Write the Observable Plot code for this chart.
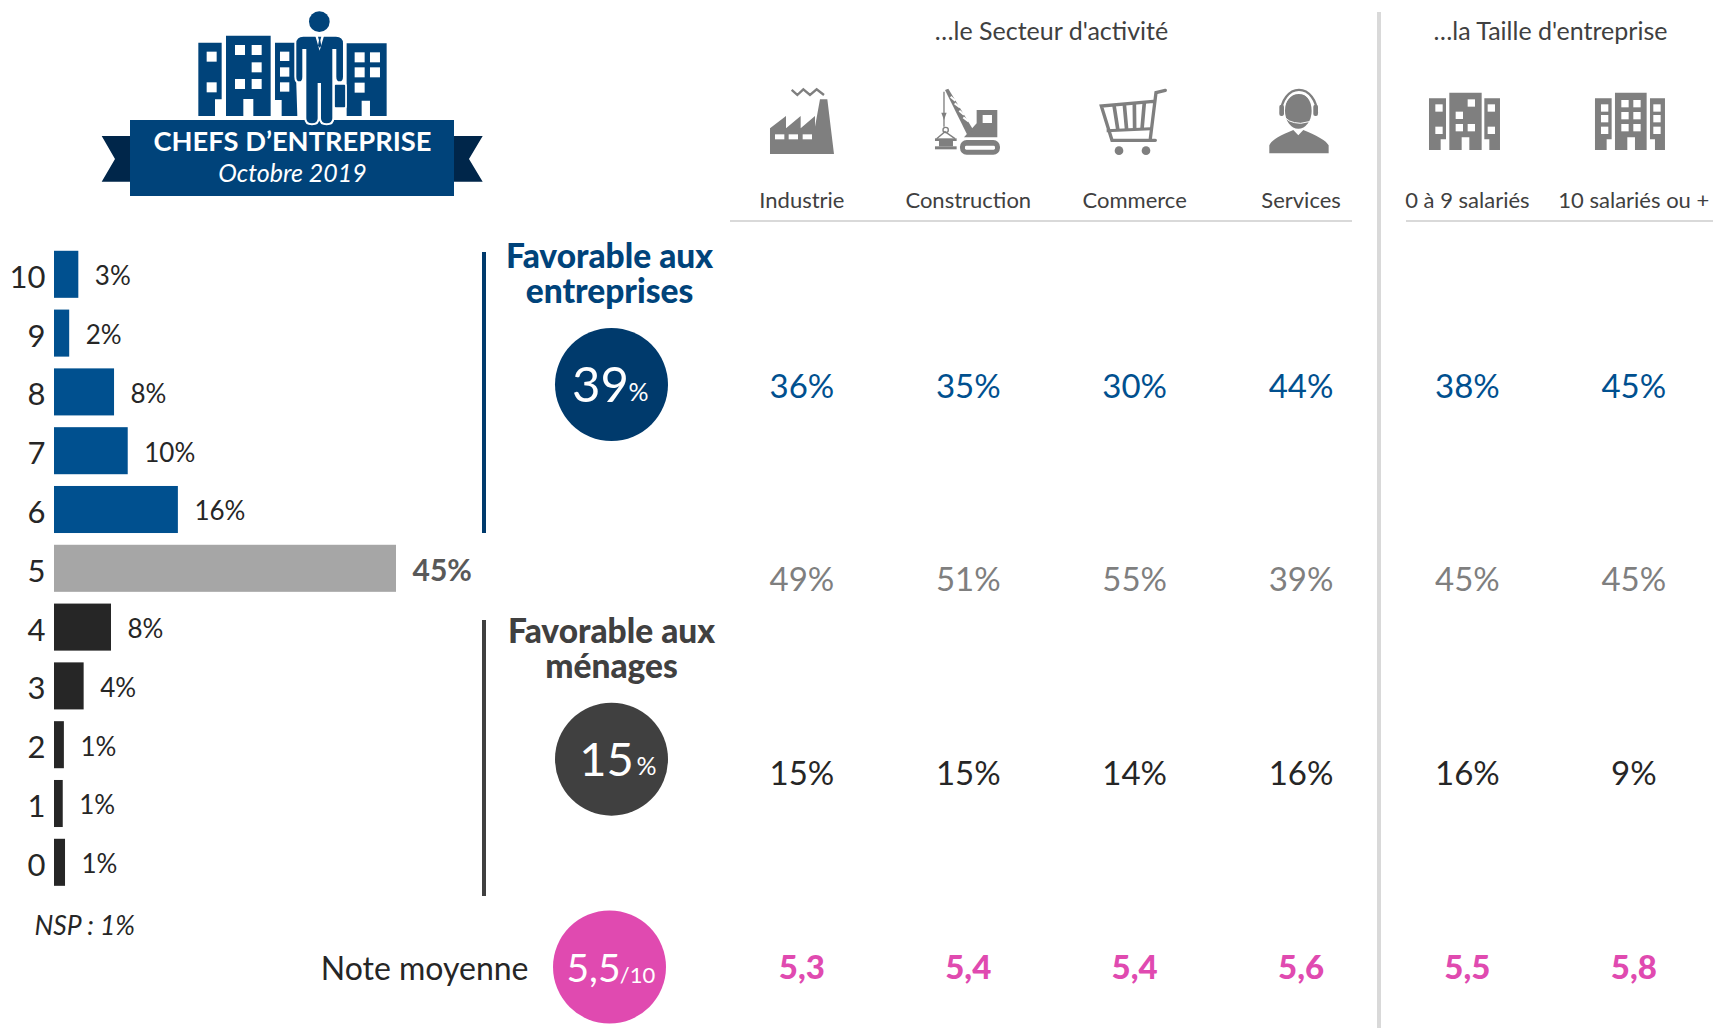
<!DOCTYPE html>
<html lang="fr">
<head>
<meta charset="utf-8">
<script src="https://cdn.jsdelivr.net/npm/d3@7"></script>
<script src="https://cdn.jsdelivr.net/npm/@observablehq/plot@0.6"></script>
<style>
html,body{margin:0;padding:0;background:#fff}
#page{position:relative;width:1713px;height:1028px;overflow:hidden}
#page svg{position:absolute;left:0;top:0}
</style>
</head>
<body>
<div id="page"></div>
<script>
// ---- Data ----
const scores = [10, 9, 8, 7, 6, 5, 4, 3, 2, 1, 0];
const shares = [3.2, 2.0, 7.9, 9.7, 16.3, 45, 7.5, 3.9, 1.3, 1.15, 1.45];
const shareLabels = ["3%", "2%", "8%", "10%", "16%", "45%", "8%", "4%", "1%", "1%", "1%"];
const groups = ["ent", "ent", "ent", "ent", "ent", "neu", "men", "men", "men", "men", "men"];

const columns = ["Industrie", "Construction", "Commerce", "Services", "0 à 9 salariés", "10 salariés ou +"];
const rowNames = ["entreprises", "neutre", "menages", "note"];
const favEntreprises = ["36%", "35%", "30%", "44%", "38%", "45%"];
const neutres = ["49%", "51%", "55%", "39%", "45%", "45%"];
const favMenages = ["15%", "15%", "14%", "16%", "16%", "9%"];
const notes = ["5,3", "5,4", "5,4", "5,6", "5,5", "5,8"];

const FONT = "Lato, Carlito, sans-serif";
const BLUE = "#00508f", NAVY = "#00437a", DEEP = "#003a6c", TAIL = "#00264a";
const GREY = "#a6a6a6", DARK = "#262626", CHAR = "#404040", PINK = "#e04ab0", ICON = "#7f7f7f", RULE = "#d9d9d9";

// Text at a fixed place on the page (headings and annotations, not data)
const note = (text, x, y, o = {}) => Plot.text([text], {
  text: d => d, frameAnchor: "top-left", dx: x, dy: y,
  lineAnchor: "middle", textAnchor: "middle", fill: "#404040", fontSize: 22, ...o
});

const decor = html => () => {
  const g = d3.create("svg:g");
  g.html(html);
  return g.node();
};

// ---- Pictograms (decorative) ----
const sq = (list, s, h = s) => list.map(([x, y]) => `<rect x="${x}" y="${y}" width="${s}" height="${h}" fill="#fff"/>`).join("");

const logo = `
<g>
  <path d="M130,136 H101.7 L115,159 L101.7,181.7 H130Z M454,136 H482.7 L469,159 L482.7,181.7 H454Z" fill="${TAIL}"/>
  <rect x="130" y="120" width="324" height="76" fill="${NAVY}"/>
  <g transform="translate(190,5) scale(.3333)" fill="${NAVY}">
    <path d="M25,113H95V283H75V333H25Z"/>
    <path d="M108,92H242V333H190V282H160V333H108Z"/>
    <path d="M255,113H315L322,333H275V285H255Z"/>
    <path d="M470,115H590V333H540V287H515V333H470Z"/>
    ${sq([[50,140],[50,232],[135,120],[185,120],[185,172],[135,222],[185,222],[494,142],[540,142],[494,187],[540,187],[494,233]], 30)}
    ${sq([[270,140],[270,187],[270,232]], 28)}
    <rect x="432" y="237" width="36" height="72" rx="5" stroke="#fff" stroke-width="5"/>
    <path d="M340,92H438Q462,92 462,115V215Q462,232 449,232Q436,232 436,215V135H430V340Q430,358 410,358Q390,358 390,340V237H386V340Q386,358 366,358Q346,358 346,340V135H340V215Q340,232 328,232Q316,232 316,215V115Q316,92 340,92Z" stroke="#fff" stroke-width="6"/>
    <circle cx="388" cy="50" r="31"/>
    <path d="M376,93H402L389,137Z" fill="#fff"/>
    <path d="M384,95H394L391,106L394,122L389,128L384,122L387,106Z"/>
  </g>
</g>`;

const buildingsA = `
<g transform="translate(1420,80) scale(.3333)" fill="${ICON}">
  <path d="M27,55H78V178H62V210H27Z"/>
  <path d="M88,38H185V210H148V172H125V210H88Z"/>
  <path d="M193,55H240V210H208V178H193Z"/>
  ${sq([[46,73],[46,140],[143,58],[107,95],[107,132],[143,132],[203,73],[203,140]], 22)}
</g>`;
const buildingsB = `
<g transform="translate(1420,80) scale(.3333)" fill="${ICON}">
  <path d="M525,55H575V178H560V210H525Z"/>
  <path d="M585,38H680V210H645V172H622V210H585Z"/>
  <path d="M690,55H735V210H705V178H690Z"/>
  ${sq([[543,73],[543,105],[543,140],[604,60],[640,60],[604,96],[640,96],[604,132],[640,132],[700,73],[700,105],[700,140]], 22)}
</g>`;
const factory = `
<g transform="translate(760,80) scale(.3333)" fill="${ICON}">
  <path d="M30,145L78,108V145L122,108V145L165,108V140L180,58H202L222,222H30Z"/>
  <path d="M95,30L112,45L130,28L150,45L170,28L192,45" fill="none" stroke="${ICON}" stroke-width="7"/>
  ${sq([[45,163],[86,163],[128,163]], 28, 15)}
</g>`;
const crane = `
<g transform="translate(760,80) scale(.3333)" fill="${ICON}">
  <rect x="600" y="180" width="120" height="44" rx="20"/>
  <rect x="615" y="197" width="90" height="12" rx="4" fill="#fff"/>
  <path d="M650,90H712V172H612L650,130Z"/>
  <rect x="668" y="105" width="28" height="24" fill="#fff"/>
  <path d="M555,30L565,26L640,150L622,165Z"/>
  <path d="M572,50L586,62M584,70L600,82M598,92L612,104M610,112L626,124" stroke="#fff" stroke-width="6"/>
  <path d="M552,35V140" stroke="${ICON}" stroke-width="4"/>
  <path d="M544,98H560L552,120Z"/>
  <circle cx="557" cy="150" r="8" fill="none" stroke="${ICON}" stroke-width="4"/>
  <path d="M530,176L555,155L585,176" fill="none" stroke="${ICON}" stroke-width="4"/>
  <rect x="525" y="175" width="65" height="8"/>
  <rect x="537" y="183" width="42" height="16"/>
  <rect x="525" y="199" width="65" height="9"/>
</g>`;
const cart = `
<g transform="translate(1090,80) scale(.3333)" fill="${ICON}">
  <path d="M226,31L198,38L181,176M196,181H66L34,78L190,64" fill="none" stroke="${ICON}" stroke-width="10" stroke-linecap="round"/>
  <path d="M50,152L182,146" stroke="${ICON}" stroke-width="9"/>
  <path d="M72,76L84,152M103,73L110,150M133,70L134,149M163,67L156,148" stroke="${ICON}" stroke-width="11"/>
  <circle cx="87" cy="212" r="13"/><circle cx="168" cy="212" r="13"/>
</g>`;
const services = `
<g transform="translate(1090,80) scale(.3333)" fill="${ICON}">
  <path d="M538,220V196Q545,176 610,150L625,166L640,150Q705,176 716,196V220Z"/>
  <ellipse cx="625" cy="92" rx="40" ry="54"/>
  <path d="M575,100A50,62 0 0 1 678,100" fill="none" stroke="#fff" stroke-width="12"/>
  <path d="M573,100A52,68 0 0 1 681,100" fill="none" stroke="${ICON}" stroke-width="7"/>
  <rect x="568" y="74" width="14" height="34" rx="6"/><rect x="670" y="74" width="14" height="34" rx="6"/>
  <path d="M582,106Q590,128 632,130L662,124" fill="none" stroke="#fff" stroke-width="3"/>
</g>`;

// ---- Left part: score distribution ----
const dist = scores.map((score, i) => ({score, share: shares[i], label: shareLabels[i], group: groups[i]}));
const LEFT_MARGIN = 54;
const noteL = (text, x, y, o) => note(text, x - LEFT_MARGIN, y, o);

const left = Plot.plot({
  width: 1713, height: 1028,
  marginLeft: LEFT_MARGIN, marginRight: 0, marginTop: 0, marginBottom: 0,
  style: {fontFamily: FONT, background: "transparent"},
  x: {domain: [0, 45], range: [54, 396], axis: null},
  y: {type: "band", domain: scores, range: [244.9, 891.7], paddingInner: 0.2, paddingOuter: 0.1, round: false, label: null, axis: null},
  color: {domain: ["ent", "neu", "men"], range: [BLUE, GREY, DARK]},
  marks: [
    decor(logo),
    noteL("CHEFS D’ENTREPRISE", 292, 142, {fill: "#fff", fontWeight: 700, fontSize: 27.3}),
    noteL("Octobre 2019", 292, 173, {fill: "#fff", fontStyle: "italic", fontSize: 25}),
    Plot.barX(dist, {x: "share", y: "score", fill: "group"}),
    Plot.axisY({anchor: "left", tickSize: 0, tickPadding: 9, fontSize: 31, fill: DARK, label: null, dy: 3}),
    Plot.text(dist.filter(d => d.group !== "neu"), {x: "share", y: "score", text: "label", dx: 16, dy: 2, textAnchor: "start", fontSize: 26, fill: DARK}),
    Plot.text(dist.filter(d => d.group === "neu"), {x: "share", y: "score", text: "label", dx: 16, dy: 3, textAnchor: "start", fontSize: 30, fontWeight: 700, fill: "#595959"}),
    noteL("NSP : 1%", 34, 926, {textAnchor: "start", fontStyle: "italic", fontSize: 26.5, fill: DARK}),
    noteL("Note moyenne", 528, 969, {textAnchor: "end", fontSize: 32, fill: DARK}),
    noteL("Favorable aux\nentreprises", 609, 274, {fontWeight: 900, fontSize: 33.5, fill: NAVY, lineHeight: 1.05}),
    noteL("Favorable aux\nménages", 611, 649, {fontWeight: 900, fontSize: 33.5, fill: CHAR, lineHeight: 1.05})
  ]
});

// ---- Right part: results by sector and by company size ----
const rows = {entreprises: favEntreprises, neutre: neutres, menages: favMenages, note: notes};
const cell = rowName => rows[rowName].map((label, i) => ({col: columns[i], row: rowName, label}));

const right = Plot.plot({
  width: 1713, height: 1028,
  marginLeft: 0, marginRight: 0, marginTop: 0, marginBottom: 0,
  style: {fontFamily: FONT, background: "transparent"},
  x: {type: "point", domain: columns, range: [801.4, 1633.3], padding: 0, round: false, axis: null},
  y: {type: "point", domain: rowNames, range: [386.5, 968], padding: 0, round: false, axis: null},
  marks: [
    decor(`
      <rect x="482" y="252" width="4" height="281" fill="${DEEP}"/>
      <rect x="482" y="620" width="4" height="276" fill="${CHAR}"/>
      <rect x="1377" y="12" width="4" height="1016" fill="${RULE}"/>
      <rect x="730" y="220" width="622" height="2" fill="${RULE}"/>
      <rect x="1406" y="220" width="307" height="2" fill="${RULE}"/>
      ${factory}${crane}${cart}${services}${buildingsA}${buildingsB}`),
    note("…le Secteur d'activité", 1051, 31, {fontSize: 25}),
    note("…la Taille d'entreprise", 1550, 31, {fontSize: 25}),
    Plot.text(columns, {x: d => d, frameAnchor: "top", dy: 200, text: d => d, fontSize: 22, fill: "#404040", lineAnchor: "middle"}),
    Plot.text(cell("entreprises"), {x: "col", y: "row", text: "label", fontSize: 33, fill: BLUE}),
    Plot.text(cell("neutre"), {x: "col", y: "row", text: "label", fontSize: 33, fill: ICON}),
    Plot.text(cell("menages"), {x: "col", y: "row", text: "label", fontSize: 33, fill: DARK}),
    Plot.text(cell("note"), {x: "col", y: "row", text: "label", fontSize: 33, fontWeight: 900, fill: PINK}),
    Plot.dot(["entreprises"], {y: d => d, frameAnchor: "left", dx: 611, dy: -2.5, r: 56.5, fill: DEEP}),
    Plot.dot(["menages"], {y: d => d, frameAnchor: "left", dx: 611, dy: -15.5, r: 56.5, fill: CHAR}),
    Plot.dot(["note"], {y: d => d, frameAnchor: "left", dx: 609, dy: -1.5, r: 56.5, fill: PINK}),
    note("39", 600, 386, {fill: "#fff", fontSize: 49}),
    note("%", 638, 392, {fill: "#fff", fontSize: 25}),
    note("15", 606, 760, {fill: "#fff", fontSize: 47}),
    note("%", 646, 766, {fill: "#fff", fontSize: 25}),
    note("5,5", 593, 969, {fill: "#fff", fontSize: 39}),
    note("/10", 637, 975, {fill: "#fff", fontSize: 22})
  ]
});

document.getElementById("page").append(left, right);
</script>
</body>
</html>
